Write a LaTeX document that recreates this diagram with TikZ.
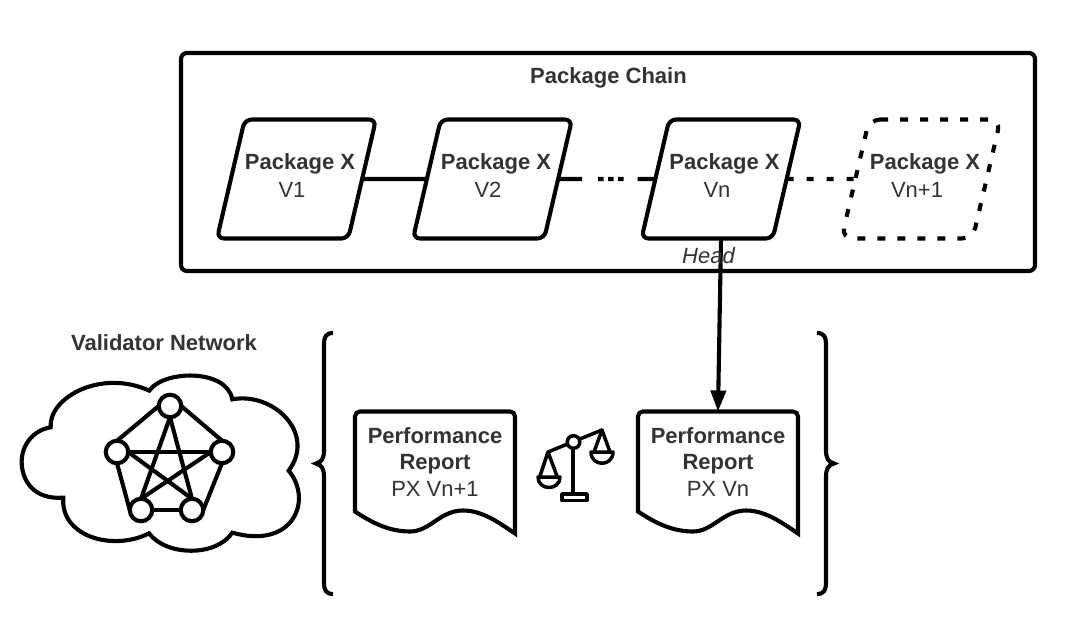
\documentclass[tikz,border=0pt]{standalone}
\usepackage{fontspec}
\setmainfont{Liberation Sans}
\usetikzlibrary{shapes.geometric,arrows.meta}
\definecolor{ink}{HTML}{333333}
\tikzset{
  heavy/.style={line width=4.1pt,black},
  pkg/.style={draw=black,line width=4.1pt,fill=white,trapezium,trapezium left angle=75,trapezium right angle=105,
    trapezium stretches=true,minimum width=159pt,minimum height=119pt,inner sep=0pt,outer sep=0pt,rounded corners=7pt},
  lab/.style={text=ink,font=\fontsize{22}{26.5}\selectfont,inner sep=0pt,align=center},
  blab/.style={lab,font=\fontsize{22}{26.5}\selectfont\bfseries},
  docbox/.style={minimum width=160pt,minimum height=119pt,inner sep=0pt,outer sep=0pt},
  peer/.style={circle,draw=black,line width=4.1pt,fill=white,minimum size=22.5pt,inner sep=0pt,outer sep=0pt},
}
\newcommand{\docshape}[1]{%
  \draw[heavy,fill=white,shift={(#1.north west)}] (0,100) [rounded corners=5pt] -- (0,0) -- (160,0) [sharp corners] -- (160,122)
    .. controls (145,112) and (128,99) .. (108,99)
    .. controls (85,99) and (75,120) .. (55,120)
    .. controls (35,120) and (18,112) .. (0,100) -- cycle;}
\newcommand{\blank}{\phantom{\rule{10pt}{10pt}}}
\begin{document}
\begin{tikzpicture}[x=1pt,y=-1pt]
\useasboundingbox (0,0) rectangle (1079,639);
\fill[white] (0,0) rectangle (1079,639);
% frame
\draw[heavy,rounded corners=6pt] (181,53) rectangle (1035,271);
\node[blab] (chain) at (608.5,78) {Package Chain};
% packages
\node[pkg] (p1) at (296.5,179) {\blank};
\node[pkg] (p2) at (492.5,179) {\blank};
\node[pkg] (p3) at (721,179) {\blank};
\node[pkg,draw=none] (p4) at (921,179) {\blank};
\draw[heavy,rounded corners=11pt,dash pattern=on 8pt off 12pt] (p4.top left corner) -- (p4.top right corner) -- (p4.bottom right corner) -- (p4.bottom left corner) -- cycle;
\draw[heavy] (p1) -- (p2);
\draw[heavy,dash pattern=on 24pt off 16pt on 5.5pt off 4.5pt on 5.5pt off 4.5pt on 5.5pt off 14pt on 30pt] (p2) -- (p3);
\draw[heavy,dash pattern=on 7pt off 13pt] (p3) -- (p4);
\node[blab] (t1) at (300,164) {Package X};
\node[lab]  (v1) at (292,190) {V1};
\node[blab] (t2) at (496,164) {Package X};
\node[lab]  (v2) at (488,190) {V2};
\node[blab] (t3) at (724.5,164) {Package X};
\node[lab]  (v3) at (717,190) {Vn};
\node[blab] (t4) at (925,164) {Package X};
\node[lab]  (v4) at (917,190) {Vn+1};
% reports
\node[docbox] (rl) at (435,471) {};
\node[docbox] (rr) at (718,471) {};
\docshape{rl}
\docshape{rr}
\draw[heavy,-{Triangle[length=21pt,width=15pt]}] (p3.south) -- (rr.north);
\node[lab,font=\fontsize{22}{26.5}\selectfont\itshape] (head) at (708.5,256) {Head};
\node[lab,anchor=north] (tl) at (435,427) {\textbf{Performance}\\\textbf{Report}\\PX Vn+1};
\node[lab,anchor=north] (tr) at (718,427) {\textbf{Performance}\\\textbf{Report}\\PX Vn};
% braces
\draw[heavy] (333,333) .. controls (326,333) and (324,337) .. (324,344) -- (324,450)
  .. controls (324,458) and (322,462) .. (316,463.5)
  .. controls (322,465) and (324,469) .. (324,477) -- (324,583)
  .. controls (324,590) and (326,594) .. (333,594);
\draw[heavy] (817,333) .. controls (824,333) and (826,337) .. (826,344) -- (826,450)
  .. controls (826,458) and (828,462) .. (834,463.5)
  .. controls (828,465) and (826,469) .. (826,477) -- (826,583)
  .. controls (826,590) and (824,594) .. (817,594);
% scales
\begin{scope}[line width=3.5pt,line join=round,line cap=round]
\draw (548,452) -- (602,430);
\draw (573,448) -- (573,493);
\draw (562,494) rectangle (587,500.5);
\draw (540,476) -- (548,452) -- (557,476);
\draw (538,477) -- (560,477) .. controls (560,491) and (538,491) .. (538,477) -- cycle;
\draw (594,452) -- (602,430) -- (610,452);
\draw (591,452) -- (613,452) .. controls (613,467) and (591,467) .. (591,452) -- cycle;
\draw[fill=white] (573.5,442) circle (6.3pt);
\end{scope}
% cloud
\node[blab] (vn) at (164,343) {Validator Network};
\begin{scope}[shift={(0,320)},x=0.3333pt,y=-0.3333pt]
\draw[heavy] (152,322) .. controls (145,235) and (300,145) .. (448,212)
  .. controls (490,150) and (680,145) .. (697,238)
  .. controls (820,215) and (950,340) .. (866,452)
  .. controls (940,540) and (880,690) .. (697,638)
  .. controls (650,710) and (500,710) .. (447,640)
  .. controls (340,695) and (180,650) .. (190,533)
  .. controls (100,540) and (65,480) .. (65,425)
  .. controls (65,375) and (100,330) .. (152,322) -- cycle;
\end{scope}
% peers
\node[peer] (a) at (170,406) {};
\node[peer] (b) at (117,452) {};
\node[peer] (c) at (222,452) {};
\node[peer] (d) at (141,510) {};
\node[peer] (e) at (192,510) {};
\draw[heavy] (a.west) -- (b.north);
\draw[heavy] (a.east) -- (c.north);
\draw[heavy] (b.south) -- (d.west);
\draw[heavy] (c.south) -- (e.east);
\draw[heavy] (d) -- (e);
\draw[heavy] (b) -- (c);
\draw[heavy] (a.south) -- (d.north);
\draw[heavy] (a.south) -- (e.north);
\draw[heavy] (b.east) -- (e.north);
\draw[heavy] (c.west) -- (d.north);
\end{tikzpicture}
\end{document}
